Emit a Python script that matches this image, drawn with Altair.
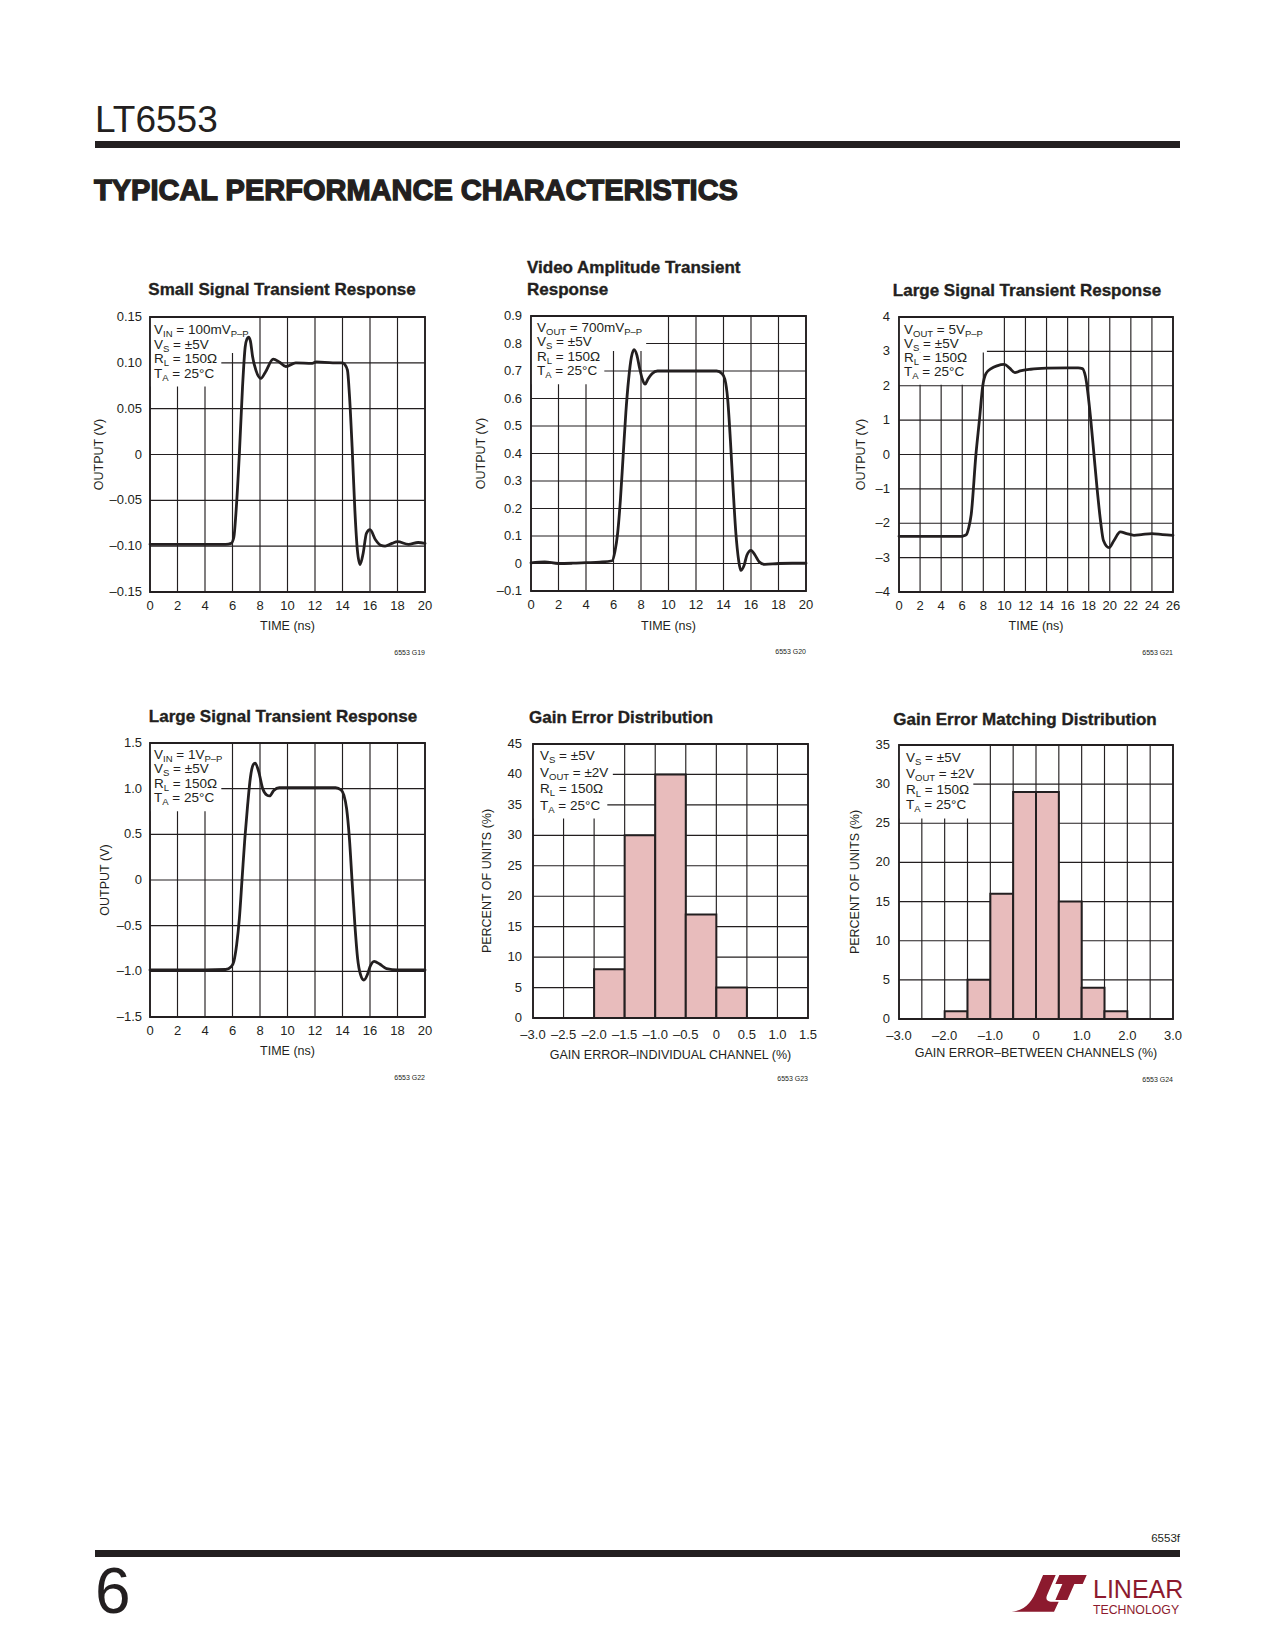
import altair as alt
import pandas as pd

INK = "#231f20"
PINK = "#e8bcbc"
LOGO = "#8c1a2e"
FONT = "Liberation Sans, Arial, Helvetica, sans-serif"

# ------------------------------------------------------------------ data
small_t = [0, 2, 4, 5.5, 5.9, 6.1, 6.25, 6.5, 6.73, 6.92, 7.05, 7.17, 7.3, 7.46, 7.7,
           8.06, 8.4, 8.96, 9.4, 9.88, 10.6, 11.8, 12.1, 13.3, 14.0, 14.15, 14.36, 14.5,
           14.7, 14.9, 15.08, 15.28, 15.5, 15.74, 16.0, 16.4, 16.78, 17.1, 17.6, 18.0,
           18.8, 19.5, 20]
small_v = [-0.098, -0.098, -0.098, -0.098, -0.097, -0.090, -0.064, 0.001, 0.074, 0.117,
           0.126, 0.128, 0.124, 0.107, 0.092, 0.083, 0.090, 0.104, 0.101, 0.096, 0.100,
           0.0995, 0.101, 0.100, 0.100, 0.0985, 0.092, 0.066, 0.008, -0.061, -0.104,
           -0.120, -0.108, -0.086, -0.082, -0.093, -0.099, -0.100, -0.097, -0.095,
           -0.098, -0.096, -0.097]

video_t = [0, 1, 2, 3, 4, 5, 5.9, 6.1, 6.3, 6.5, 6.7, 6.9, 7.1, 7.3, 7.5, 7.7, 7.9, 8.1,
           8.3, 8.5, 8.8, 9.2, 10, 12, 13.5, 13.9, 14.1, 14.3, 14.5, 14.7, 14.9, 15.1,
           15.25, 15.5, 15.7, 16.0, 16.3, 16.6, 17, 18, 19, 20]
video_v = [0.002, 0.006, 0.0, 0.001, 0.003, 0.005, 0.01, 0.043, 0.11, 0.23, 0.39, 0.55,
           0.67, 0.75, 0.778, 0.758, 0.71, 0.67, 0.652, 0.67, 0.69, 0.70, 0.70, 0.70,
           0.70, 0.69, 0.67, 0.60, 0.45, 0.27, 0.11, 0.012, -0.025, -0.006, 0.03, 0.048,
           0.03, 0.006, -0.003, 0.0, 0.001, 0.001]

large5_t = [0, 2, 4, 6, 6.2, 6.4, 6.6, 6.85, 7.3, 7.63, 7.95, 8.26, 8.74, 9.3, 10.0, 10.5,
            11.0, 11.5, 12.5, 14, 16, 17, 17.4, 17.7, 18.2, 18.5, 18.8, 19.15, 19.4,
            19.94, 20.4, 21.0, 21.6, 22.3, 23, 24, 25, 26]
large5_v = [-2.38, -2.38, -2.38, -2.38, -2.36, -2.33, -2.15, -1.75, 0.0, 1.0, 2.0, 2.36,
            2.50, 2.58, 2.62, 2.51, 2.38, 2.43, 2.48, 2.51, 2.52, 2.52, 2.50, 2.26, 1.0,
            0.0, -1.0, -2.0, -2.5, -2.71, -2.5, -2.25, -2.30, -2.35, -2.33, -2.30, -2.33,
            -2.35]

large1_t = [0, 2, 4, 5.5, 5.9, 6.1, 6.3, 6.5, 6.7, 6.9, 7.1, 7.3, 7.5, 7.65, 7.9, 8.2, 8.5,
            8.7, 9.0, 9.4, 10, 12, 13.5, 13.9, 14.1, 14.3, 14.5, 14.7, 14.9, 15.1, 15.3,
            15.55, 15.8, 16.0, 16.3, 16.7, 17.2, 18, 19, 20]
large1_v = [-0.985, -0.985, -0.985, -0.98, -0.95, -0.89, -0.71, -0.42, 0.02, 0.46, 0.82,
            1.12, 1.26, 1.28, 1.19, 1.0, 0.93, 0.92, 0.98, 1.01, 1.01, 1.01, 1.01, 0.985,
            0.93, 0.78, 0.46, -0.02, -0.49, -0.86, -1.03, -1.095, -1.04, -0.95, -0.89,
            -0.92, -0.97, -0.985, -0.985, -0.985]

gain_start = [-2.0, -1.5, -1.0, -0.5, 0.0]
gain_pct = [8, 30, 40, 17, 5]
match_start = [-2.0, -1.5, -1.0, -0.5, 0.0, 0.5, 1.0, 1.5]
match_pct = [1, 5, 16, 29, 29, 15, 4, 1]
BIN = 0.5

# tick / grid values
time20_ticks = [0, 2, 4, 6, 8, 10, 12, 14, 16, 18, 20]
time26_ticks = [0, 2, 4, 6, 8, 10, 12, 14, 16, 18, 20, 22, 24, 26]
small_ticks = [-0.15, -0.10, -0.05, 0, 0.05, 0.10, 0.15]
video_ticks = [-0.1, 0, 0.1, 0.2, 0.3, 0.4, 0.5, 0.6, 0.7, 0.8, 0.9]
large5_ticks = [-4, -3, -2, -1, 0, 1, 2, 3, 4]
large1_ticks = [-1.5, -1.0, -0.5, 0, 0.5, 1.0, 1.5]
gain_x_ticks = [-3.0, -2.5, -2.0, -1.5, -1.0, -0.5, 0, 0.5, 1.0, 1.5]
gain_y_ticks = [0, 5, 10, 15, 20, 25, 30, 35, 40, 45]
match_x_grid = [-3.0, -2.5, -2.0, -1.5, -1.0, -0.5, 0, 0.5, 1.0, 1.5, 2.0, 2.5, 3.0]
match_x_ticks = [-3.0, -2.0, -1.0, 0, 1.0, 2.0, 3.0]
match_y_ticks = [0, 5, 10, 15, 20, 25, 30, 35]

# text content
VS = [("V", 0), ("S", 1), (" = ±5V", 0)]
RL = [("R", 0), ("L", 1), (" = 150Ω", 0)]
TA = [("T", 0), ("A", 1), (" = 25°C", 0)]
ann_small = [[("V", 0), ("IN", 1), (" = 100mV", 0), ("P–P", 1)], VS, RL, TA]
ann_video = [[("V", 0), ("OUT", 1), (" = 700mV", 0), ("P–P", 1)], VS, RL, TA]
ann_large5 = [[("V", 0), ("OUT", 1), (" = 5V", 0), ("P–P", 1)], VS, RL, TA]
ann_large1 = [[("V", 0), ("IN", 1), (" = 1V", 0), ("P–P", 1)], VS, RL, TA]
ann_gain = [VS, [("V", 0), ("OUT", 1), (" = ±2V", 0)], RL, TA]

# ------------------------------------------------------------------ geometry
W, H = 1259, 1634
OFF = 8


def c(p):
    return p - OFF


CW = {' ': 278, '=': 584, '±': 584, '.': 278, 'm': 833, 'V': 667, 'P': 667, '–': 556,
      'I': 278, 'N': 722, 'O': 778, 'U': 722, 'T': 611, 'S': 667, 'R': 722, 'L': 556,
      'A': 667, 'Ω': 768, '°': 400, 'C': 722}
MAIN, SUB = 13.5, 9.5
LABEL = 13


def tw(s, fs):
    return sum(CW.get(ch, 556) for ch in s) * fs / 1000.0


def fmt(v, f):
    if v == 0:
        return "0"
    s = str(int(round(abs(v)))) if f == "d" else format(abs(v), f)
    return ("–" if v < 0 else "") + s


panels = [
    dict(kind="line", t=small_t, v=small_v, box=(150, 425, 317, 592), xdom=(0, 20),
         ydom=(-0.15, 0.15), xgrid=time20_ticks, xlab=time20_ticks, ygrid=small_ticks,
         ylab=small_ticks, xfmt="d", yfmt=".2f", xtitle="TIME (ns)", ytitle="OUTPUT (V)",
         ytx=-51, xty=34, xpad=8, ypad=8, title=["Small Signal Transient Response"],
         talign="center", tx=282, ty=295, ann=ann_small, ax=154, ay=334, asp=14.5,
         fig="6553 G19"),
    dict(kind="line", t=video_t, v=video_v, box=(531, 806, 316, 591), xdom=(0, 20),
         ydom=(-0.1, 0.9), xgrid=time20_ticks, xlab=time20_ticks, ygrid=video_ticks,
         ylab=video_ticks, xfmt="d", yfmt=".1f", xtitle="TIME (ns)", ytitle="OUTPUT (V)",
         ytx=-50, xty=35, xpad=8, ypad=9,
         title=["Video Amplitude Transient", "Response"], talign="left", tx=527, ty=273,
         ann=ann_video, ax=537, ay=332, asp=14.4, fig="6553 G20"),
    dict(kind="line", t=large5_t, v=large5_v, box=(899, 1173, 317, 592), xdom=(0, 26),
         ydom=(-4, 4), xgrid=time26_ticks, xlab=time26_ticks, ygrid=large5_ticks,
         ylab=large5_ticks, xfmt="d", yfmt="d", xtitle="TIME (ns)", ytitle="OUTPUT (V)",
         ytx=-38, xty=34, xpad=8, ypad=9, title=["Large Signal Transient Response"],
         talign="center", tx=1027, ty=296, ann=ann_large5, ax=904, ay=334, asp=13.9,
         fig="6553 G21"),
    dict(kind="line", t=large1_t, v=large1_v, box=(150, 425, 743, 1017), xdom=(0, 20),
         ydom=(-1.5, 1.5), xgrid=time20_ticks, xlab=time20_ticks, ygrid=large1_ticks,
         ylab=large1_ticks, xfmt="d", yfmt=".1f", xtitle="TIME (ns)", ytitle="OUTPUT (V)",
         ytx=-45, xty=34, xpad=8, ypad=8, title=["Large Signal Transient Response"],
         talign="center", tx=283, ty=722, ann=ann_large1, ax=154, ay=759, asp=14.4,
         fig="6553 G22"),
    dict(kind="hist", s=gain_start, p=gain_pct, box=(533, 808, 744, 1018), xdom=(-3, 1.5),
         ydom=(0, 45), xgrid=gain_x_ticks, xlab=gain_x_ticks, ygrid=gain_y_ticks,
         ylab=gain_y_ticks, xfmt=".1f", yfmt="d",
         xtitle="GAIN ERROR–INDIVIDUAL CHANNEL (%)", ytitle="PERCENT OF UNITS (%)",
         ytx=-46, xty=37, xpad=11, ypad=11, title=["Gain Error Distribution"],
         talign="left", tx=529, ty=723, ann=ann_gain, ax=540, ay=760, asp=16.5,
         fig="6553 G23"),
    dict(kind="hist", s=match_start, p=match_pct, box=(899, 1173, 745, 1019), xdom=(-3, 3),
         ydom=(0, 35), xgrid=match_x_grid, xlab=match_x_ticks, ygrid=match_y_ticks,
         ylab=match_y_ticks, xfmt=".1f", yfmt="d",
         xtitle="GAIN ERROR–BETWEEN CHANNELS (%)", ytitle="PERCENT OF UNITS (%)",
         ytx=-44, xty=34, xpad=11, ypad=9, title=["Gain Error Matching Distribution"],
         talign="center", tx=1025, ty=725, ann=ann_gain, ax=906, ay=762, asp=15.8,
         fig="6553 G24"),
]

grid_layers, data_layers = [], []
ann_rows, box_rows, tc_rows, tl_rows, fig_rows = [], [], [], [], []
xt_rows, yt_rows = [], []

for p in panels:
    x0, x1, y0, y1 = p["box"]
    xmin, xmax = p["xdom"]
    ymin, ymax = p["ydom"]
    xs = alt.Scale(domain=[xmin, xmax], range=[c(x0), c(x1)], nice=False, zero=False)
    ys = alt.Scale(domain=[ymin, ymax], range=[c(y1), c(y0)], nice=False, zero=False)

    vg = alt.Chart(pd.DataFrame({"g": p["xgrid"], "lo": ymin, "hi": ymax})).mark_rule(
        color=INK, strokeWidth=1.15).encode(
        x=alt.X("g:Q", scale=xs, axis=None), y=alt.Y("lo:Q", scale=ys, axis=None), y2="hi:Q")
    hg = alt.Chart(pd.DataFrame({"g": p["ygrid"], "lo": xmin, "hi": xmax})).mark_rule(
        color=INK, strokeWidth=1.15).encode(
        y=alt.Y("g:Q", scale=ys, axis=None), x=alt.X("lo:Q", scale=xs, axis=None), x2="hi:Q")
    grid_layers.append(alt.layer(vg, hg))

    fr = alt.Chart(pd.DataFrame({"a": [xmin], "b": [xmax], "c": [ymin], "d": [ymax]})).mark_rect(
        fillOpacity=0, stroke=INK, strokeWidth=1.8).encode(
        x=alt.X("a:Q", scale=xs, axis=None), x2="b:Q",
        y=alt.Y("c:Q", scale=ys, axis=None), y2="d:Q")

    if p["kind"] == "line":
        main = alt.Chart(pd.DataFrame({"t": p["t"], "v": p["v"]})).mark_line(
            color=INK, strokeWidth=2.8, interpolate="monotone", strokeJoin="round",
            strokeCap="round").encode(
            x=alt.X("t:Q", scale=xs, axis=None), y=alt.Y("v:Q", scale=ys, axis=None))
    else:
        df = pd.DataFrame({"s": p["s"], "e": [s + BIN for s in p["s"]], "z": 0, "p": p["p"]})
        main = alt.Chart(df).mark_rect(fill=PINK, stroke=INK, strokeWidth=2).encode(
            x=alt.X("s:Q", scale=xs, axis=None), x2="e:Q",
            y=alt.Y("z:Q", scale=ys, axis=None), y2="p:Q")

    # tick labels drawn through the panel scales
    xl = alt.Chart(pd.DataFrame({"v": p["xlab"], "lo": ymin,
                                 "txt": [fmt(v, p["xfmt"]) for v in p["xlab"]]})).mark_text(
        align="center", baseline="top", dy=p["xpad"], font=FONT, fontSize=LABEL, color=INK).encode(
        x=alt.X("v:Q", scale=xs, axis=None), y=alt.Y("lo:Q", scale=ys, axis=None), text="txt:N")
    yl = alt.Chart(pd.DataFrame({"v": p["ylab"], "lo": xmin,
                                 "txt": [fmt(v, p["yfmt"]) for v in p["ylab"]]})).mark_text(
        align="right", baseline="middle", dx=-p["ypad"], font=FONT, fontSize=LABEL, color=INK).encode(
        x=alt.X("lo:Q", scale=xs, axis=None), y=alt.Y("v:Q", scale=ys, axis=None), text="txt:N")
    data_layers.append(alt.layer(main, fr, xl, yl))

    xt_rows.append(dict(text=p["xtitle"], px=c((x0 + x1) / 2), py=c(y1 + p["xty"])))
    yt_rows.append(dict(text=p["ytitle"], px=c(x0 + p["ytx"]), py=c((y0 + y1) / 2)))

    # annotation text with subscripts
    widths = []
    for i, line in enumerate(p["ann"]):
        base = p["ay"] + i * p["asp"]
        cur = p["ax"]
        for txt, sub in line:
            fs = SUB if sub else MAIN
            lead = len(txt) - len(txt.lstrip(" "))
            cur += tw(" " * lead, fs)
            body = txt.lstrip(" ")
            ann_rows.append(dict(text=body, px=c(cur), py=c(base + (3 if sub else 0)), sub=sub))
            cur += tw(body, fs)
        widths.append(cur - p["ax"])
    b1 = p["ay"] + p["asp"] + 4.5
    b3 = p["ay"] + 3 * p["asp"] + 9
    box_rows.append(dict(a=c(x0), b=c(p["ax"] + max(widths[0], widths[1]) + 4), c=c(y0), d=c(b1)))
    box_rows.append(dict(a=c(x0), b=c(p["ax"] + max(widths[2], widths[3]) + 4), c=c(b1), d=c(b3)))

    for k, tline in enumerate(p["title"]):
        row = dict(text=tline, px=c(p["tx"]), py=c(p["ty"] + k * 22))
        (tc_rows if p["talign"] == "center" else tl_rows).append(row)
    fig_rows.append(dict(text=p["fig"], px=c(x1), py=c(y1 + 63)))

ann_df = pd.DataFrame(ann_rows)
box_layer = alt.Chart(pd.DataFrame(box_rows)).mark_rect(fill="white", strokeWidth=0).encode(
    x=alt.X("a:Q", scale=None), x2="b:Q", y=alt.Y("c:Q", scale=None), y2="d:Q")


def text_layer(rows, **kw):
    kw.setdefault("baseline", "alphabetic")
    return alt.Chart(pd.DataFrame(rows)).mark_text(color=INK, **kw).encode(
        x=alt.X("px:Q", scale=None), y=alt.Y("py:Q", scale=None), text="text:N")


ann_main = text_layer(ann_df[ann_df["sub"] == 0].to_dict("records"), align="left",
                      font=FONT, fontSize=MAIN)
ann_sub = text_layer(ann_df[ann_df["sub"] == 1].to_dict("records"), align="left",
                     font=FONT, fontSize=SUB)
titles_c = text_layer(tc_rows, align="center", font=FONT, fontSize=17, fontWeight="bold",
                      stroke=INK, strokeWidth=0.35)
titles_l = text_layer(tl_rows, align="left", font=FONT, fontSize=17, fontWeight="bold",
                      stroke=INK, strokeWidth=0.35)
figs = text_layer(fig_rows, align="right", font=FONT, fontSize=7)
xtitles = text_layer(xt_rows, align="center", baseline="middle", font=FONT, fontSize=12.5)
ytitles = text_layer(yt_rows, align="center", baseline="middle", angle=270, font=FONT,
                     fontSize=12.5)


def deco_text(s, x, y, **kw):
    return alt.Chart(pd.DataFrame({"t": [s]})).mark_text(baseline="alphabetic", **kw).encode(
        text="t:N", x=alt.value(c(x)), y=alt.value(c(y)))


def deco_rule(xa, xb, y, w):
    return alt.Chart(pd.DataFrame({"t": [0]})).mark_rule(color=INK, strokeWidth=w,
                                                        strokeCap="butt").encode(
        x=alt.value(c(xa)), x2=alt.value(c(xb)), y=alt.value(c(y)))


def lp(x, y):
    return f"{(x - 447.5) / 112.5:.3f},{(y - 220) / 112.5:.3f}"


logo_path = ("M" + lp(335, 275) + "C" + lp(378, 272) + " " + lp(397, 243) + " " + lp(411, 208)
             + "L" + lp(429, 165) + "L" + lp(467, 165) + "L" + lp(441, 226)
             + "C" + lp(436, 238) + " " + lp(441, 245) + " " + lp(452, 245)
             + "L" + lp(476, 245) + "L" + lp(462, 275) + "Z"
             + "M" + lp(478, 165) + "L" + lp(560, 165) + "L" + lp(548, 192) + "L" + lp(523, 192)
             + "L" + lp(502, 240) + "L" + lp(466, 240) + "L" + lp(487, 192) + "L" + lp(466, 192)
             + "Z")

logo = alt.Chart(pd.DataFrame({"t": [0]})).mark_point(
    shape=logo_path, filled=True, size=5625, color=LOGO, opacity=1, strokeWidth=0).encode(
    x=alt.value(c(1049.2)), y=alt.value(c(1593.3)))

decor = [
    deco_text("LT6553", 95, 132, align="left", font=FONT, fontSize=37, fontWeight=300, color=INK),
    deco_rule(95, 1180, 144.5, 7),
    deco_text("TYPICAL PERFORMANCE CHARACTERISTICS", 94, 200, align="left", font=FONT,
              fontSize=29, fontWeight="bold", color=INK, stroke=INK, strokeWidth=1.3),
    deco_text("6553f", 1180, 1542, align="right", font=FONT, fontSize=11.5, color=INK),
    deco_rule(95, 1180, 1553.5, 7),
    deco_text("6", 95, 1613, align="left", font=FONT, fontSize=64, fontWeight=300, color=INK),
    logo,
    deco_text("LINEAR", 1093, 1598, align="left", font=FONT, fontSize=25, color=LOGO),
    deco_text("TECHNOLOGY", 1093, 1614, align="left", font=FONT, fontSize=12.3, color=LOGO),
]

layers = (grid_layers + [box_layer] + data_layers
          + [ann_main, ann_sub, titles_c, titles_l, figs, xtitles, ytitles] + decor)

chart = (
    alt.layer(*layers)
    .resolve_scale(x="independent", y="independent")
    .properties(width=W, height=H, padding=0, background="white")
    .configure_view(strokeWidth=0)
)

chart.save("out.html", embed_options={"renderer": "svg", "actions": False})
